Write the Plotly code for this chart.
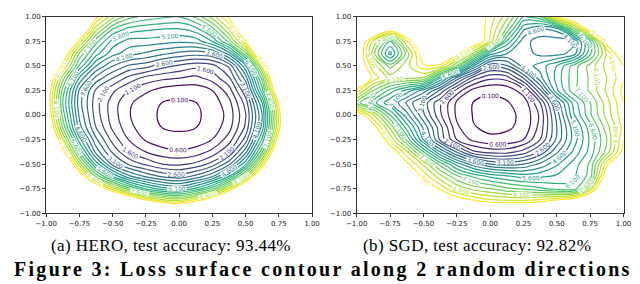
import plotly.graph_objects as go

# grid coordinates (both directions)
grid = [-1.0, -0.875, -0.75, -0.625, -0.5, -0.375, -0.25, -0.125, 0.0,
        0.125, 0.25, 0.375, 0.5, 0.625, 0.75, 0.875, 1.0]

# (a) HERO loss surface, rows ordered by y ascending
hero_loss = [
    [22, 20, 18.5, 17, 15.7, 14.8, 13.5, 13, 12.8, 13.3, 14.5, 16, 17.8, 19.8, 22, 24.8, 27],
    [20, 17.5, 15.6, 13.9, 12.5, 11.3, 9.9, 9.0, 8.75, 9.55, 10.8, 12.7, 14.5, 16.7, 19.5, 22, 25.5],
    [18.2, 15.5, 12.9, 10.8, 8.8, 7.2, 6.0, 5.3, 5.0, 5.7, 6.9, 9.0, 11.5, 14.1, 17, 20, 23.5],
    [16.5, 13.5, 10.5, 7.5, 5.6, 4.2, 3.5, 3.0, 2.8, 3.25, 4.05, 5.6, 8.1, 11.5, 14.7, 18.2, 21.9],
    [14.9, 11.8, 8.3, 5.4, 3.4, 2.5, 2.0, 1.6, 1.5, 1.72, 2.3, 3.45, 5.5, 9.0, 13, 16.7, 20.5],
    [13.7, 10.3, 6.5, 3.9, 2.5, 1.55, 1.09, 0.78, 0.67, 0.81, 1.24, 2.1, 3.9, 7.0, 11.4, 15.5, 19.3],
    [12.4, 8.7, 5.3, 3.2, 1.9, 1.06, 0.53, 0.29, 0.2, 0.29, 0.61, 1.34, 2.8, 5.7, 10.2, 14.5, 18.5],
    [11.3, 7.5, 4.3, 2.6, 1.48, 0.75, 0.28, 0.09, 0.05, 0.09, 0.29, 0.9, 2.2, 4.8, 9.3, 13.9, 18],
    [10.8, 6.9, 4.0, 2.35, 1.33, 0.63, 0.2, 0.05, 0.0, 0.05, 0.2, 0.78, 2.05, 4.6, 9.2, 13.8, 17.9],
    [10.5, 6.6, 3.8, 2.3, 1.34, 0.69, 0.28, 0.09, 0.05, 0.09, 0.3, 0.93, 2.3, 5.1, 9.75, 14.2, 18.3],
    [10.6, 6.9, 4.0, 2.5, 1.7, 1.1, 0.7, 0.4, 0.25, 0.3, 0.6, 1.35, 2.97, 6.4, 11.1, 15.2, 19.2],
    [11.1, 7.8, 5.0, 3.4, 2.6, 1.9, 1.4, 1.2, 1.1, 0.95, 1.3, 2.0, 3.8, 7.3, 12.2, 16.7, 20.5],
    [11.9, 9.3, 6.5, 4.6, 3.6, 3.0, 2.8, 2.3, 2.0, 1.75, 1.9, 2.7, 5.0, 8.8, 13.2, 17.2, 21.4],
    [14, 10.5, 7.5, 5.8, 4.8, 4.3, 4.0, 3.7, 3.45, 3.3, 3.5, 4.8, 7.4, 11.5, 15, 18.5, 22],
    [17, 13, 9.3, 6.8, 5.4, 4.9, 4.9, 4.8, 4.7, 4.8, 5.6, 7.3, 9.6, 13.5, 17, 20, 23],
    [20, 16, 11.5, 8.3, 6.6, 5.9, 5.7, 5.6, 5.55, 5.9, 6.9, 8.6, 11, 14.5, 18, 21, 24],
    [23, 19, 14, 9.8, 8.2, 7.3, 6.9, 6.7, 6.6, 7.2, 8.3, 9.7, 12.5, 16, 19.5, 22, 25],
]

# (b) SGD loss surface, rows ordered by y ascending
sgd_loss = [
    [20, 19, 18, 17, 16, 14.5, 13.5, 12.5, 12, 12, 12, 12.2, 12.5, 13, 14, 16, 18],
    [18, 16.5, 15, 13.5, 12.5, 11.2, 10.2, 9.7, 9.3, 9.2, 9.2, 9.4, 9.9, 10.5, 11.5, 13, 15],
    [16, 14.5, 13, 11.8, 10.6, 9.5, 8.5, 7.9, 7.6, 7.2, 7.0, 6.7, 6.4, 6.2, 8.5, 11.5, 14],
    [14.5, 13, 11.6, 10.4, 9.5, 8.3, 7.2, 6.5, 6.0, 5.7, 5.4, 5.5, 5.7, 6.0, 6.8, 10.5, 13],
    [13.5, 12, 10.8, 9.8, 8.5, 6.9, 5.4, 4.3, 3.6, 3.4, 3.6, 4.2, 5.0, 5.8, 6.7, 9.4, 12],
    [12.5, 11, 10.3, 8.7, 6.6, 4.6, 3.0, 1.7, 1.4, 1.4, 1.8, 2.7, 4.0, 5.2, 6.3, 7.8, 9.9],
    [14, 11, 9.0, 7.0, 4.6, 2.5, 1.1, 0.45, 0.16, 0.2, 0.6, 1.6, 3.2, 4.8, 6.2, 7.6, 9.6],
    [13, 10.0, 8.0, 5.9, 4.0, 2.3, 0.7, 0.12, 0.03, 0.05, 0.18, 1.3, 3.1, 4.9, 6.4, 7.9, 9.3],
    [10.5, 8.6, 6.6, 4.8, 3.2, 1.7, 0.5, 0.07, 0.01, 0.04, 0.15, 1.2, 3.3, 5.5, 7.0, 8.3, 9.5],
    [7.3, 6.3, 5.2, 4.0, 2.9, 1.7, 0.5, 0.08, 0.05, 0.07, 0.25, 1.6, 3.8, 5.8, 7.1, 8.4, 9.6],
    [9.4, 7.6, 6.4, 5.4, 4.4, 3.0, 1.4, 0.4, 0.13, 0.22, 0.9, 3.0, 5.5, 6.9, 7.7, 8.7, 9.8],
    [11, 9.4, 8.4, 8.2, 8.0, 5.6, 3.4, 1.8, 1.2, 1.3, 2.6, 4.4, 5.8, 6.9, 7.7, 8.6, 9.5],
    [10.5, 8.8, 7.4, 8.4, 9.5, 9.4, 7.5, 4.6, 2.7, 3.0, 4.3, 4.8, 5.6, 6.8, 7.8, 8.8, 9.6],
    [10.8, 7.8, 5.4, 7.8, 10.2, 11, 9.9, 8.0, 5.3, 4.6, 4.35, 3.95, 3.9, 4.3, 6.5, 8.7, 10.5],
    [11, 8.5, 6.6, 9.0, 11, 12, 11.5, 10.5, 9.0, 6.0, 4.3, 3.85, 3.8, 4.0, 6.5, 10, 13],
    [13, 11.5, 10.2, 11, 12.5, 13, 12, 10.5, 9.2, 7.5, 5.2, 4.5, 4.8, 7.5, 10.2, 12.5, 15],
    [16, 14, 12.5, 13, 13.5, 13.5, 12, 10.2, 9.4, 8.3, 6.5, 7.0, 9.8, 11, 13.5, 16, 18],
]

tick_vals = [-1.0, -0.75, -0.5, -0.25, 0.0, 0.25, 0.5, 0.75, 1.0]
level_start, level_end, level_step = 0.1, 9.6, 0.5

caption_a = "(a) HERO, test accuracy: 93.44%"
caption_b = "(b) SGD, test accuracy: 92.82%"
figure_title = "Figure 3: Loss surface contour along 2 random directions"


def contour_trace(z, xa, ya):
    return go.Contour(
        x=grid, y=grid, z=z, xaxis=xa, yaxis=ya,
        colorscale="Viridis", zauto=False, zmin=level_start, zmax=level_end,
        showscale=False,
        contours=dict(start=level_start, end=level_end, size=level_step,
                      coloring="lines", showlabels=True,
                      labelfont=dict(size=6, family="DejaVu Sans"),
                      labelformat=".3f"),
        line=dict(width=1.2, smoothing=1.0),
        hoverinfo="skip",
    )


fig = go.Figure()
fig.add_trace(contour_trace(hero_loss, "x", "y"))
fig.add_trace(contour_trace(sgd_loss, "x2", "y2"))

ax_common = dict(range=[-1, 1], tickvals=tick_vals, tickformat=".2f",
                 showgrid=False, zeroline=False, showline=True, mirror=True,
                 linecolor="#333333", linewidth=1, ticks="outside", ticklen=3,
                 tickcolor="#333333", tickwidth=0.8,
                 tickfont=dict(family="DejaVu Sans", size=7, color="#222222"))

ydom = [1 - 207 / 284, 1 - 5 / 284]
fig.update_layout(
    width=640, height=284,
    margin=dict(l=0, r=0, t=0, b=0),
    paper_bgcolor="white", plot_bgcolor="white",
    xaxis=dict(domain=[28 / 640, 302 / 640], anchor="y", **ax_common),
    yaxis=dict(domain=ydom, anchor="x", **ax_common),
    xaxis2=dict(domain=[348 / 640, 623 / 640], anchor="y2", **ax_common),
    yaxis2=dict(domain=ydom, anchor="x2", **ax_common),
    showlegend=False,
    annotations=[
        dict(text="<span style='letter-spacing:0.4px'>" + caption_a + "</span>",
             x=157 / 640, y=1 - 240 / 284, xref="paper", yref="paper",
             showarrow=False, xanchor="center", yanchor="middle",
             font=dict(family="Liberation Serif", size=17, color="black")),
        dict(text="<span style='letter-spacing:0.4px'>" + caption_b + "</span>",
             x=472 / 640, y=1 - 240 / 284, xref="paper", yref="paper",
             showarrow=False, xanchor="center", yanchor="middle",
             font=dict(family="Liberation Serif", size=17, color="black")),
        dict(text="<b><span style='letter-spacing:2.3px'>" + figure_title + "</span></b>",
             x=0.49, y=1 - 265 / 284, xref="paper", yref="paper",
             showarrow=False, xanchor="center", yanchor="middle",
             font=dict(family="Liberation Serif", size=20, color="black")),
    ],
)

fig.write_html("out.html")
